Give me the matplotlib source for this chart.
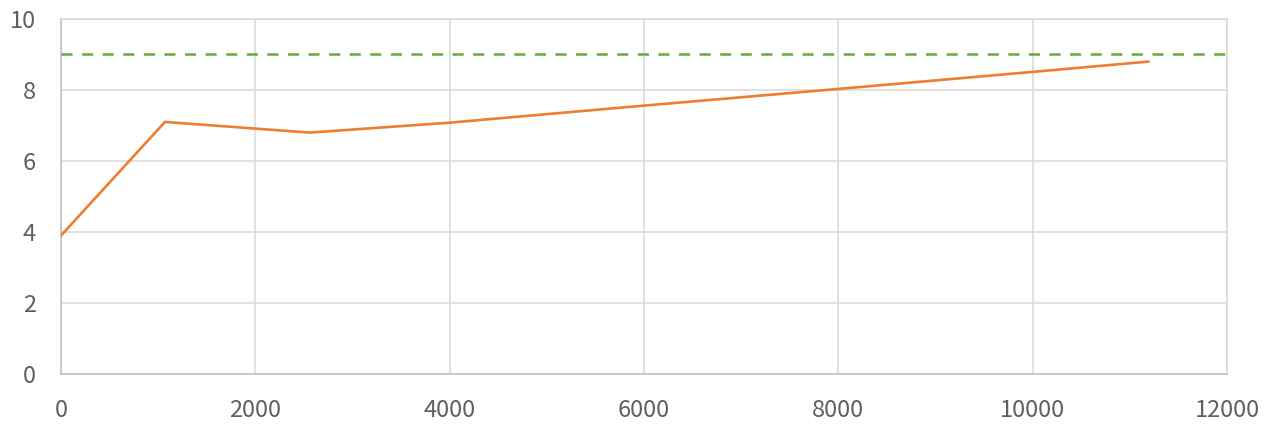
import matplotlib
matplotlib.use("Agg")
import matplotlib.pyplot as plt

plt.rcParams['font.family'] = ['Noto Sans CJK KR', 'DejaVu Sans']

x_vals = [0, 1070, 2560, 4000, 6000, 8000, 10000, 11190]
y_vals = [3.9, 7.1, 6.8, 7.08, 7.56, 8.03, 8.51, 8.8]
target = 9.0
x_ticks = [0, 2000, 4000, 6000, 8000, 10000, 12000]
y_ticks = [0, 2, 4, 6, 8, 10]

fig = plt.figure(figsize=(12.7, 4.3), dpi=100)
ax = fig.add_axes([61/1270, 1 - 374/430, (1227-61)/1270, (374-19)/430])

ax.axhline(target, color='#70AD47', lw=1.9, linestyle=(0, (4.2, 3.6)), zorder=3)
ax.plot(x_vals, y_vals, color='#ED7D31', lw=1.9, zorder=4, solid_joinstyle='miter')

ax.set_xlim(0, 12000)
ax.set_ylim(0, 10)
ax.set_xticks(x_ticks)
ax.set_yticks(y_ticks)
ax.grid(True, color='#D9D9D9', lw=1.1)
ax.set_axisbelow(True)
for s in ax.spines.values():
    s.set_color('#D9D9D9')
    s.set_linewidth(1.1)
ax.spines['left'].set_color('#BFBFBF')
ax.spines['bottom'].set_color('#BFBFBF')
ax.tick_params(length=0, labelsize=17, labelcolor='#5F5F5F')
ax.tick_params(axis='y', pad=18)
ax.tick_params(axis='x', pad=18)

fig.savefig('out.png', dpi=100)
